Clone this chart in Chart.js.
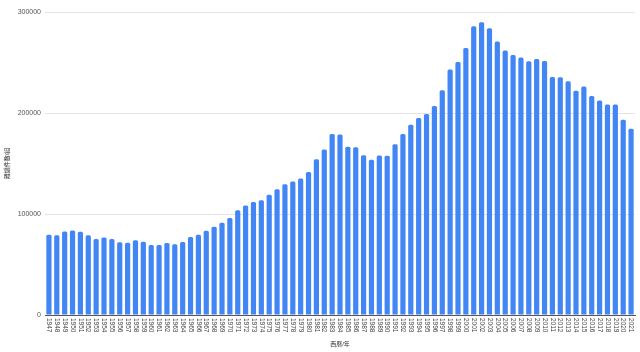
<!DOCTYPE html>
<html>
<head>
<meta charset="utf-8">
<script src="https://cdn.jsdelivr.net/npm/chart.js@4"></script>
<style>
  html, body { margin: 0; padding: 0; background: #fff; }
  #wrap { width: 640px; height: 352px; }
</style>
</head>
<body>
<div id="wrap"><canvas id="divorceChart"></canvas></div>
<script>
const years = [];
for (let y = 1947; y <= 2021; y++) years.push(String(y));

const divorces = [
  79551, 79032, 82575, 83689, 82331, 79021, 75255, 76759, 75267, 72040,
  71651, 74004, 72455, 69410, 69323, 71394, 69996, 72306, 77195, 79432,
  83478, 87327, 91280, 95937, 103595, 108382, 111877, 113622, 119135, 124512,
  129485, 132146, 135250, 141689, 154221, 163980, 179150, 178746, 166640, 166054,
  158227, 153600, 157811, 157608, 168969, 179191, 188297, 195106, 199016, 206955,
  222635, 243183, 250529, 264246, 285911, 289836, 283854, 270804, 261917, 257475,
  254832, 251136, 253353, 251378, 235719, 235406, 231383, 222107, 226238, 216856,
  212296, 208333, 208496, 193253, 184384
];

const yTicks = [0, 100000, 200000, 300000];
const yTitle = "離婚件数/組";
const xTitle = "西暦/年";

const fontFamily = "Arial, 'Liberation Sans', 'Noto Sans CJK JP', sans-serif";

// x labels read top-to-bottom in the original, so draw them ourselves
const rotatedLabels = {
  id: "rotatedLabels",
  afterDraw(chart) {
    const ctx = chart.ctx;
    const xs = chart.scales.x;
    ctx.save();
    ctx.font = "6.5px " + fontFamily;
    ctx.fillStyle = "#444";
    ctx.textAlign = "left";
    ctx.textBaseline = "middle";
    years.forEach((lab, i) => {
      const px = xs.getPixelForValue(i);
      ctx.save();
      ctx.translate(px, xs.top + 3);
      ctx.rotate(Math.PI / 2);
      ctx.fillText(lab, 0, 0);
      ctx.restore();
    });
    ctx.restore();
  }
};

new Chart(document.getElementById("divorceChart").getContext("2d"), {
  type: "bar",
  data: {
    labels: years,
    datasets: [{
      label: yTitle,
      data: divorces,
      backgroundColor: "#4285f4",
      borderRadius: { topLeft: 1.5, topRight: 1.5 },
      borderSkipped: "bottom",
      categoryPercentage: 1,
      barPercentage: 0.66
    }]
  },
  options: {
    responsive: true,
    maintainAspectRatio: false,
    animation: false,
    layout: { padding: { top: 12, right: 5, left: 0, bottom: 0 } },
    plugins: {
      legend: { display: false },
      tooltip: { enabled: false }
    },
    scales: {
      x: {
        grid: { display: false },
        border: { display: true, color: "#555", width: 1 },
        ticks: { display: false },
        title: {
          display: true,
          text: xTitle,
          color: "#333",
          font: { size: 6, family: fontFamily },
          padding: { top: 2, bottom: 4 }
        },
        afterFit(scale) { scale.height = 37; }
      },
      y: {
        min: 0,
        max: 300000,
        afterBuildTicks(scale) { scale.ticks = yTicks.map(v => ({ value: v })); },
        grid: { color: "#e4e4e4", drawTicks: false },
        border: { display: false },
        ticks: {
          color: "#555",
          padding: 4,
          font: { size: 7, family: fontFamily },
          callback: (v) => String(v)
        },
        title: {
          display: true,
          text: yTitle,
          color: "#333",
          font: { size: 6, family: fontFamily },
          padding: { top: 4, bottom: 4 }
        },
        afterFit(scale) { scale.width = 45; }
      }
    }
  },
  plugins: [rotatedLabels]
});
</script>
</body>
</html>
